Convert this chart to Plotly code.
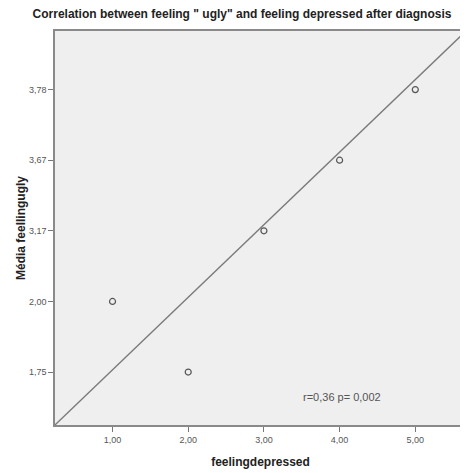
import plotly.graph_objects as go

# Data
feeling_depressed = [1, 2, 3, 4, 5]
mean_feeling_ugly = [2.00, 1.75, 3.17, 3.67, 3.78]
x_ticks = [1, 2, 3, 4, 5]
y_tick_labels = ["1,75", "2,00", "3,17", "3,67", "3,78"]
annotation_text = "r=0,36 p= 0,002"

def fmt(v):
    return f"{v:.2f}".replace(".", ",")

y_cats = [fmt(v) for v in mean_feeling_ugly]

x_range = [0.24, 5.67]
y_range = [-0.75, 4.83]

FONT = "Liberation Sans, Arial, sans-serif"

fig = go.Figure()

# reference diagonal across the plot
fig.add_trace(go.Scatter(
    x=x_range, y=[0, 1], xaxis="x", yaxis="y2", mode="lines",
    line=dict(color="#7a7a7a", width=1.3), hoverinfo="skip", showlegend=False))

fig.add_trace(go.Scatter(
    x=feeling_depressed, y=y_cats, mode="markers",
    marker=dict(symbol="circle-open", size=6, color="#555555", line=dict(width=1.2)),
    showlegend=False))

fig.update_layout(
    width=460, height=465,
    margin=dict(l=47, r=0, t=23, b=48),
    paper_bgcolor="white", plot_bgcolor="#efefef",
    separators=",.",
    font=dict(family=FONT, color="#333333"),
    title=dict(text='<b>Correlation between feeling " ugly" and feeling depressed after diagnosis</b>',
               x=(242 - 8) / 460, xanchor="center", y=1 - (14 - 8) / 465, yanchor="middle",
               font=dict(size=12, color="#222222", family=FONT)),
    xaxis=dict(range=x_range, tickvals=x_ticks, tickformat=".2f",
               showgrid=False, zeroline=False,
               showline=True, linecolor="#8a8a8a", linewidth=1.5, mirror=True,
               ticks="outside", ticklen=5, tickcolor="#777777",
               tickfont=dict(size=9, color="#555555"),
               title=dict(text="<b>feelingdepressed</b>", font=dict(size=12, color="#222222"), standoff=14)),
    yaxis=dict(type="category", categoryorder="array", categoryarray=y_tick_labels,
               range=y_range, showgrid=False, zeroline=False,
               showline=True, linecolor="#8a8a8a", linewidth=1.5, mirror=True,
               ticks="outside", ticklen=5, tickcolor="#777777",
               tickfont=dict(size=9, color="#555555"),
               title=dict(text="<b>Média feellingugly</b>", font=dict(size=12, color="#222222"), standoff=1)),
    yaxis2=dict(range=[0, 1], overlaying="y", visible=False, fixedrange=True),
    annotations=[dict(text=annotation_text, x=4.03, y=0.071, xref="x", yref="paper",
                      xanchor="center", yanchor="middle",
                      showarrow=False, font=dict(size=11, color="#555555"))],
)

fig.write_html("out.html")
